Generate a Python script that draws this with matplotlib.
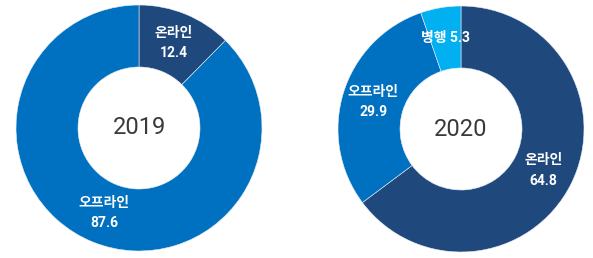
import numpy as np
import matplotlib
matplotlib.use("Agg")
import matplotlib.pyplot as plt

plt.rcParams['font.family'] = ['Roboto', 'Noto Sans CJK KR', 'DejaVu Sans']

# 데이터
years = ['2019', '2020']
labels_2019 = ['온라인', '오프라인']
values_2019 = [12.4, 87.6]
labels_2020 = ['온라인', '오프라인', '병행']
values_2020 = [64.8, 29.9, 5.3]

c_online = '#1F497D'
c_offline = '#0070C0'
c_both = '#00B0F0'

W, H = 593, 258
fig = plt.figure(figsize=(W / 100, H / 100), dpi=100)
ax = fig.add_axes([0, 0, 1, 1])

R, r_in = 123, 61


def donut(cx, cy, vals, labs, cols, year, oneline=()):
    ax.pie(vals, colors=cols, startangle=90, counterclock=False, center=(cx, cy),
           radius=R, wedgeprops=dict(width=R - r_in, edgecolor='#e8eef6', linewidth=0.4),
           frame=True)
    ax.text(cx, cy, year, ha='center', va='center', fontsize=17, color='#3a3a3a')
    total = sum(vals)
    start = 0
    lr = (R + r_in) / 2
    for v, lab in zip(vals, labs):
        mid = np.deg2rad((start + v / 2) / total * 360)
        x = cx + lr * np.sin(mid)
        y = cy + lr * np.cos(mid)
        txt = f'{lab} {v}' if lab in oneline else f'{lab}\n{v}'
        ax.text(x, y, txt, ha='center', va='center', fontsize=10, fontweight='bold',
                color='white', linespacing=1.6)
        start += v


donut(139, H - 128, values_2019, labels_2019, [c_online, c_offline], years[0])
donut(461, H - 129, values_2020, labels_2020, [c_online, c_offline, c_both], years[1],
      oneline=('병행',))

ax.set_xlim(0, W)
ax.set_ylim(0, H)
ax.set_aspect('equal')
ax.axis('off')
fig.savefig('out.png', dpi=100)
